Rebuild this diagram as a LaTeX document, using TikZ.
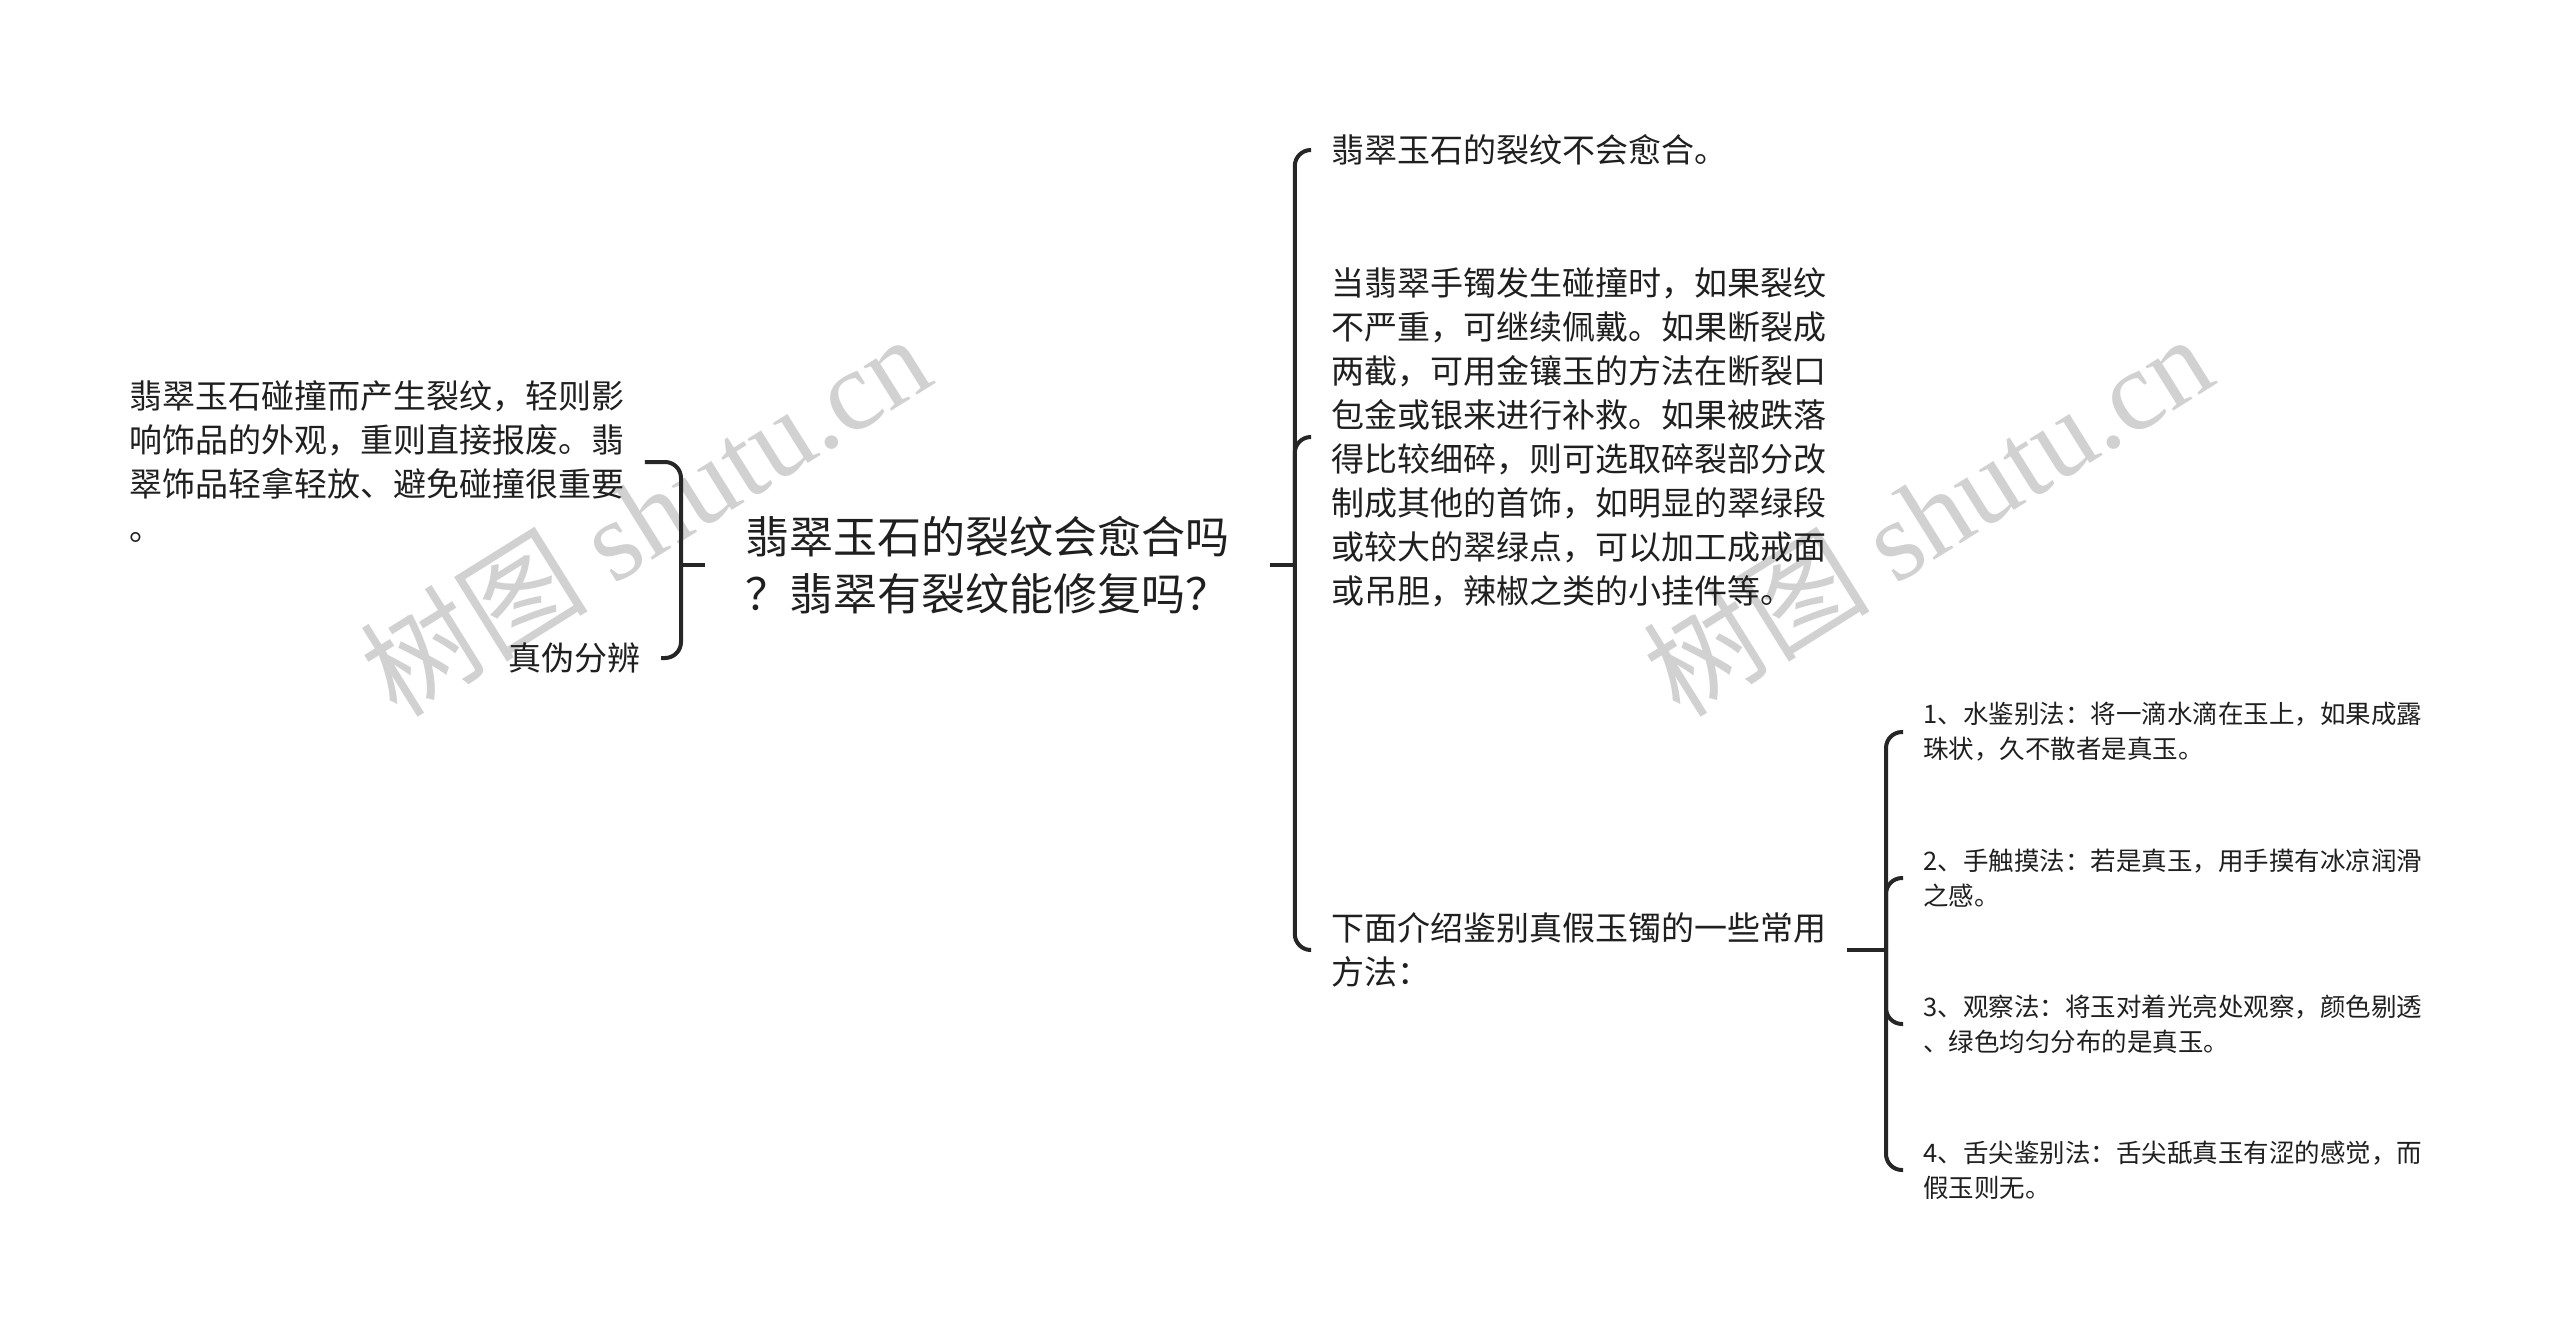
\documentclass[tikz,border=0pt]{standalone}
\usepackage{fontspec}
\setmainfont{Noto Sans CJK SC}
\newfontfamily\wmfont{Liberation Serif}
\usetikzlibrary{positioning}
\tikzset{
  topic/.style={anchor=west, inner xsep=20pt, inner ysep=6pt, align=left, text=black!88, font=\fontsize{22}{28.5}\selectfont},
  branch/.style={anchor=west, inner xsep=10pt, inner ysep=6pt, align=left, text=black!88, font=\fontsize{16.5}{22}\selectfont},
  leaf/.style={anchor=west, inner xsep=10pt, inner ysep=4pt, align=left, text=black!88, font=\fontsize{12.75}{17.5}\selectfont},
  link/.style={line width=2pt, draw=black!85, rounded corners=8pt},
  wmark/.style={rotate=32, text=black!18, font=\fontsize{57}{57}\selectfont}
}
\begin{document}
\begin{tikzpicture}[x=0.5pt,y=-0.5pt]
\useasboundingbox (0,0) rectangle (2560,1328);
\node[wmark] (wm1) at (645,514) {树图 {\wmfont shutu.cn}};
\node[wmark] (wm2) at (1927,514) {树图 {\wmfont shutu.cn}};

\node[topic] (root) at (705,565) {翡翠玉石的裂纹会愈合吗\\？翡翠有裂纹能修复吗？};

\node[branch] (harm) at (109,462) {翡翠玉石碰撞而产生裂纹，轻则影\\响饰品的外观，重则直接报废。翡\\翠饰品轻拿轻放、避免碰撞很重要\\。};
\node[branch, anchor=east] (jian) at (661,658) {真伪分辨};

\node[branch] (heal) at (1311,150) {翡翠玉石的裂纹不会愈合。};
\node[branch] (fix) at (1311,437) {当翡翠手镯发生碰撞时，如果裂纹\\不严重，可继续佩戴。如果断裂成\\两截，可用金镶玉的方法在断裂口\\包金或银来进行补救。如果被跌落\\得比较细碎，则可选取碎裂部分改\\制成其他的首饰，如明显的翠绿段\\或较大的翠绿点，可以加工成戒面\\或吊胆，辣椒之类的小挂件等。};
\node[branch] (ways) at (1311,950) {下面介绍鉴别真假玉镯的一些常用\\方法：};

\node[leaf] (w1) at (1903,732) {1、水鉴别法：将一滴水滴在玉上，如果成露\\珠状，久不散者是真玉。};
\node[leaf] (w2) at (1903,878) {2、手触摸法：若是真玉，用手摸有冰凉润滑\\之感。};
\node[leaf] (w3) at (1903,1024) {3、观察法：将玉对着光亮处观察，颜色剔透\\、绿色均匀分布的是真玉。};
\node[leaf] (w4) at (1903,1170) {4、舌尖鉴别法：舌尖舐真玉有涩的感觉，而\\假玉则无。};

\coordinate (lb) at ([xshift=-12pt]root.west);
\coordinate (rb) at ([xshift=12.5pt]root.east);
\coordinate (wb) at (1886,950);
\draw[link] (root.west) -- (lb);
\draw[link] (lb) |- (harm.east);
\draw[link] (lb) |- (jian.east);
\draw[link] (root.east) -- (rb);
\draw[link] (rb) |- (heal.west);
\draw[link] (rb) |- (fix.west);
\draw[link] (rb) |- (ways.west);
\draw[link] (ways.east) -- (wb);
\draw[link] (wb) |- (w1.west);
\draw[link] (wb) |- (w2.west);
\draw[link] (wb) |- (w3.west);
\draw[link] (wb) |- (w4.west);
\end{tikzpicture}
\end{document}
